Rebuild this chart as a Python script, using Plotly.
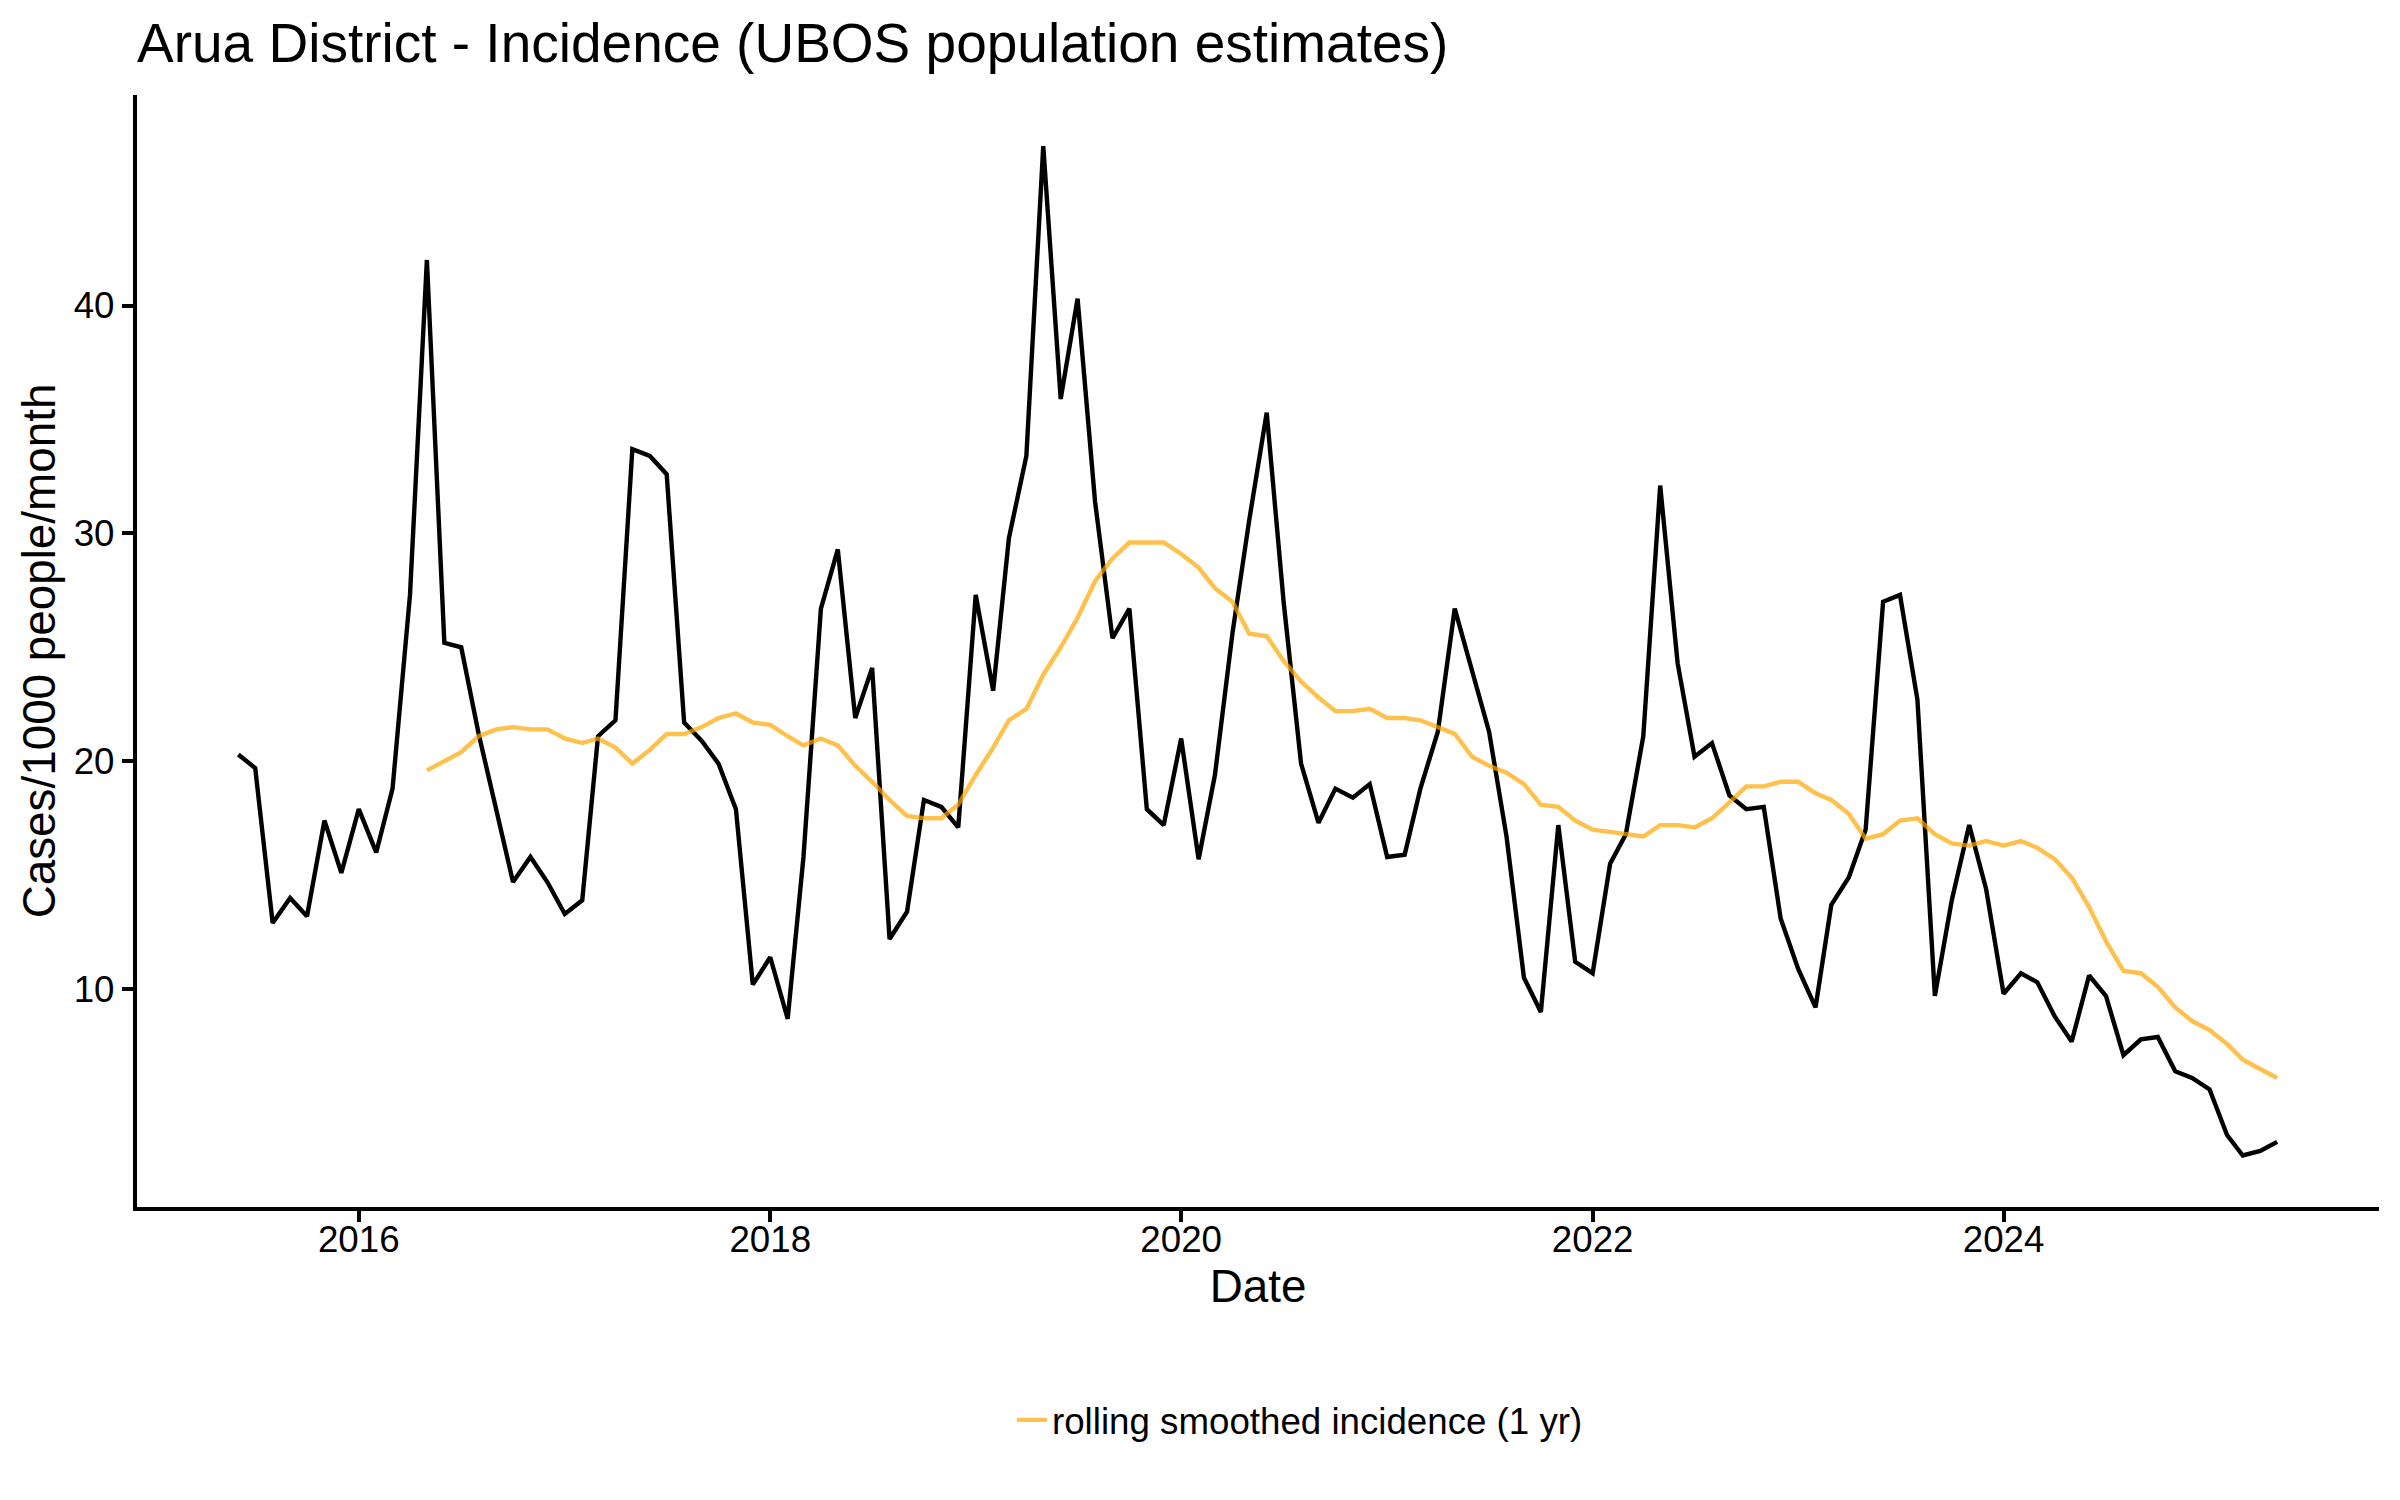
import pandas as pd
import plotly.graph_objects as go

# ---- data ----
start_month = "2015-06-01"
incidence = [
    20.3, 19.7, 12.9, 14.0, 13.2, 17.4, 15.1, 17.9, 16.0, 18.8,
    27.3, 42.0, 25.2, 25.0, 21.2, 17.9, 14.7, 15.8, 14.7, 13.3,
    13.9, 21.1, 21.8, 33.7, 33.4, 32.6, 21.7, 20.9, 19.9, 17.9,
    10.2, 11.4, 8.7, 15.8, 26.7, 29.3, 21.9, 24.1, 12.2, 13.4,
    18.3, 18.0, 17.1, 27.3, 23.1, 29.8, 33.4, 47.0, 35.9, 40.3,
    31.4, 25.4, 26.7, 17.9, 17.2, 21.0, 15.7, 19.4, 25.6, 30.6,
    35.3, 27.0, 19.9, 17.3, 18.8, 18.4, 19.0, 15.8, 15.9, 18.8,
    21.3, 26.7, 24.0, 21.3, 16.7, 10.5, 9.0, 17.2, 11.2, 10.7,
    15.5, 16.8, 21.1, 32.1, 24.3, 20.2, 20.8, 18.5, 17.9, 18.0,
    13.1, 10.9, 9.2, 13.7, 14.9, 17.0, 27.0, 27.3, 22.7, 9.7,
    13.9, 17.2, 14.4, 9.8, 10.7, 10.3, 8.8, 7.7, 10.6, 9.7,
    7.1, 7.8, 7.9, 6.4, 6.1, 5.6, 3.6, 2.7, 2.9, 3.3,
]
rolling_start_index = 11
rolling = [
    19.6, 20.0, 20.4, 21.1, 21.4, 21.5, 21.4, 21.4, 21.0, 20.8,
    21.0, 20.6, 19.9, 20.5, 21.2, 21.2, 21.5, 21.9, 22.1, 21.7,
    21.6, 21.1, 20.7, 21.0, 20.7, 19.8, 19.1, 18.3, 17.6, 17.5,
    17.5, 18.1, 19.4, 20.6, 21.8, 22.3, 23.8, 25.0, 26.3, 27.9,
    28.9, 29.6, 29.6, 29.6, 29.1, 28.5, 27.6, 27.0, 25.6, 25.5,
    24.4, 23.5, 22.8, 22.2, 22.2, 22.3, 21.9, 21.9, 21.8, 21.5,
    21.2, 20.2, 19.8, 19.5, 19.0, 18.1, 18.0, 17.4, 17.0, 16.9,
    16.8, 16.7, 17.2, 17.2, 17.1, 17.5, 18.2, 18.9, 18.9, 19.1,
    19.1, 18.6, 18.3, 17.7, 16.6, 16.8, 17.4, 17.5, 16.8, 16.4,
    16.3, 16.5, 16.3, 16.5, 16.2, 15.7, 14.9, 13.6, 12.1, 10.8,
    10.7, 10.1, 9.2, 8.6, 8.2, 7.6, 6.9, 6.5, 6.1,
]
y_ticks = [10, 20, 30, 40]

dates = pd.date_range(start_month, periods=len(incidence), freq="MS")
rolling_dates = dates[rolling_start_index:rolling_start_index + len(rolling)]

FONT = "Liberation Sans, Arial, Helvetica, sans-serif"
W, H = 2400, 1500
ML, MR, MT, MB = 129, 29, 87, 301
PW, PH = W - ML - MR, H - MT - MB

fig = go.Figure()
fig.add_trace(go.Scatter(
    x=dates, y=incidence, mode="lines",
    line=dict(color="black", width=4.4),
    showlegend=False, name="incidence",
))
fig.add_trace(go.Scatter(
    x=rolling_dates, y=rolling, mode="lines",
    line=dict(color="rgba(255,165,0,0.7)", width=4.4),
    name="rolling smoothed incidence (1 yr)",
))

fig.update_layout(
    width=W, height=H,
    margin=dict(l=ML, r=MR, t=MT, b=MB, autoexpand=False),
    plot_bgcolor="white", paper_bgcolor="white",
    font=dict(family=FONT, color="black"),
    title=dict(
        text="Arua District - Incidence (UBOS population estimates)",
        font=dict(size=55, family=FONT, color="black"),
        xref="paper", x=0, xanchor="left",
        yref="container", y=1 - 35 / 1500, yanchor="middle",
    ),
    legend=dict(
        orientation="h", x=(1012 - 8 - ML) / PW, xanchor="left",
        y=1 - (1420 - 8 - MT) / PH, yanchor="middle",
        font=dict(size=36.7, family=FONT, color="black"),
        bgcolor="rgba(0,0,0,0)",
    ),
)
fig.update_xaxes(
    type="date", range=["2014-12-03", "2025-10-29"],
    showline=True, linecolor="black", linewidth=4.4,
    ticks="outside", ticklen=11, tickwidth=4.4, tickcolor="black",
    ticklabelstandoff=-14,
    showgrid=False, zeroline=False,
    tick0="2016-01-01", dtick="M24", tickformat="%Y",
    tickfont=dict(size=36.7, family=FONT, color="black"),
    title=dict(text="Date", font=dict(size=45.8, family=FONT, color="black"), standoff=12),
)
fig.update_yaxes(
    range=[0.44, 49.24],
    showline=True, linecolor="black", linewidth=4.4,
    ticks="outside", ticklen=11, tickwidth=4.4, tickcolor="black",
    showgrid=False, zeroline=False,
    tickvals=y_ticks,
    tickfont=dict(size=36.7, family=FONT, color="black"),
    title=dict(text="Cases/1000 people/month", font=dict(size=45.8, family=FONT, color="black"), standoff=5),
)

fig.write_html("out.html")
